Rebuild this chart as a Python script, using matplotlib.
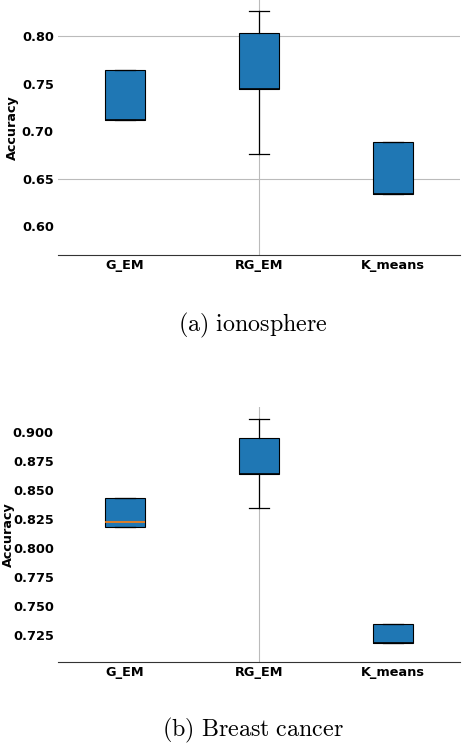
import matplotlib
matplotlib.use("Agg")
import matplotlib.pyplot as plt

plt.rcParams['mathtext.fontset'] = 'cm'

methods = ["G_EM", "RG_EM", "K_means"]

# ionosphere
iono_q1 = [0.712, 0.744, 0.634]
iono_med = [0.712, 0.744, 0.634]
iono_q3 = [0.764, 0.803, 0.689]
iono_lo = [0.712, 0.676, 0.634]
iono_hi = [0.764, 0.826, 0.689]
iono_ticks = [0.60, 0.65, 0.70, 0.75, 0.80]

# breast cancer
bc_q1 = [0.8185, 0.8637, 0.7178]
bc_med = [0.8223, 0.8637, 0.7178]
bc_q3 = [0.8435, 0.8954, 0.7342]
bc_lo = [0.8185, 0.8344, 0.7178]
bc_hi = [0.8435, 0.9112, 0.7342]
bc_ticks = [0.725, 0.750, 0.775, 0.800, 0.825, 0.850, 0.875, 0.900]


def stats(q1, med, q3, lo, hi):
    return [dict(label=m, q1=a, med=b, q3=c, whislo=d, whishi=e, fliers=[])
            for m, a, b, c, d, e in zip(methods, q1, med, q3, lo, hi)]


def draw(ax, st, ticks, ylim, fmt, hgrid, label_x, caption, cap_y):
    bp = ax.bxp(st, widths=0.3, patch_artist=True,
                boxprops=dict(facecolor='#1f77b4', edgecolor='black', linewidth=0.8),
                whiskerprops=dict(color='black', linewidth=0.9),
                capprops=dict(color='black', linewidth=0.9),
                medianprops=dict(color='#ff7f0e', linewidth=1.2))
    # a median sitting on the box edge just looks like the edge
    for line, s in zip(bp['medians'], st):
        if s['med'] in (s['q1'], s['q3']):
            line.set_color('black')
    ax.set_xlim(0.5, 3.5)
    ax.set_ylim(*ylim)
    ax.set_yticks(ticks)
    ax.set_yticklabels([fmt.format(t) for t in ticks])
    for sp in ['top', 'right', 'left']:
        ax.spines[sp].set_visible(False)
    ax.spines['bottom'].set_color('#333333')
    ax.tick_params(length=0, labelsize=9.3, pad=3)
    for lab in ax.get_xticklabels() + ax.get_yticklabels():
        lab.set_fontweight('bold')
    ax.set_ylabel("Accuracy", fontsize=9.2, fontweight='bold')
    ax.yaxis.set_label_coords(label_x, 0.5)
    ax.axvline(2, color='#bbbbbb', lw=0.8, zorder=0)
    for v in hgrid:
        ax.axhline(v, color='#bbbbbb', lw=0.8, zorder=0)
    fig.text(0.548, cap_y, caption, ha='center', va='center', fontsize=17.3)


fig = plt.figure(figsize=(4.62, 7.44), dpi=100)
ax1 = fig.add_axes([0.1255, 0.657, 0.87, 0.343])
ax2 = fig.add_axes([0.1255, 0.110, 0.87, 0.343])

draw(ax1, stats(iono_q1, iono_med, iono_q3, iono_lo, iono_hi), iono_ticks,
     (0.5695, 0.838), "{:.2f}", [0.65, 0.80], -0.096,
     r"$\mathrm{(a)\ ionosphere}$", 1 - 325 / 744)
draw(ax2, stats(bc_q1, bc_med, bc_q3, bc_lo, bc_hi), bc_ticks,
     (0.7017, 0.9218), "{:.3f}", [], -0.108,
     r"$\mathrm{(b)\ Breast\ cancer}$", 1 - 730 / 744)

fig.savefig("out.png", dpi=100)
